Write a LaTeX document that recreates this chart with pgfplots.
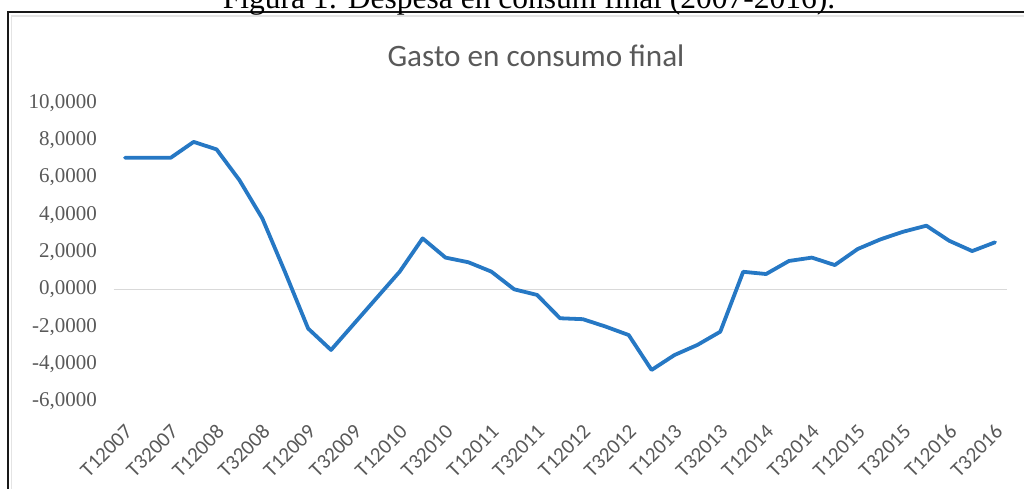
\documentclass[border=0pt]{standalone}
\usepackage{pgfplots}
\pgfplotsset{compat=1.18}
\usepackage{fontspec}
\setmainfont{Liberation Serif}
\newfontfamily\carlito{Carlito}
\definecolor{txtgray}{RGB}{89,89,89}
\definecolor{lineblue}{RGB}{38,120,196}
\definecolor{zerogray}{RGB}{217,217,217}
\begin{document}
\begin{tikzpicture}[x=1pt,y=1pt]
% frame
\draw[zerogray!70, line width=1.2pt] (11.5,-10) -- (11.5,472) -- (1040,472);
\draw[black!90, line width=2.2pt] (8.3,-10) -- (8.3,475.7) -- (1040,475.7);
% caption (cut off at top)
\node[anchor=base, inner sep=0pt, font=\fontsize{31.5}{36}\selectfont] at (529,479) {Figura 1: Despesa en consum final (2007-2016).};
% title
\node[anchor=base, inner sep=0pt, text=txtgray, font=\carlito\fontsize{31.2}{36}\selectfont] at (536,421.3) {Gasto en consumo final};
\begin{axis}[
  at={(113.5pt,86.7pt)}, anchor=south west,
  scale only axis, width=893pt, height=298.6pt,
  xmin=-0.5, xmax=38.5, ymin=-6, ymax=10,
  axis line style={draw=none},
  tick style={draw=none},
  xtick={0,2,...,38},
  xticklabels={T12007,T32007,T12008,T32008,T12009,T32009,T12010,T32010,T12011,T32011,T12012,T32012,T12013,T32013,T12014,T32014,T12015,T32015,T12016,T32016},
  xticklabel style={yshift=-27pt, xshift=4pt, rotate=45, anchor=east, inner sep=0pt, text=txtgray, font=\carlito\fontsize{21}{23}\selectfont},
  ytick={-6,-4,...,10},
  yticklabel style={xshift=-16.5pt, anchor=east, inner sep=0pt, text=txtgray, font=\fontsize{21}{23}\selectfont},
  /pgf/number format/assume math mode=true,
  yticklabel={\pgfmathprintnumber[fixed, fixed zerofill, precision=4, use comma, 1000 sep={}]{\tick}},
  clip=false,
]
\addplot[zerogray, line width=1.5pt, forget plot] coordinates {(-0.5,0) (38.5,0)};
\addplot[lineblue, line width=3.8pt, line join=round, line cap=round, mark=none] coordinates {
(0,7.05) (1,7.05) (2,7.05) (3,7.9) (4,7.5) (5,5.85) (6,3.8) (7,0.9) (8,-2.1) (9,-3.25)
(10,-1.85) (11,-0.45) (12,0.95) (13,2.73) (14,1.7) (15,1.45) (16,0.95) (17,0.0) (18,-0.3) (19,-1.55)
(20,-1.6) (21,-2.0) (22,-2.45) (23,-4.32) (24,-3.52) (25,-2.98) (26,-2.27) (27,0.94) (28,0.82) (29,1.52)
(30,1.7) (31,1.3) (32,2.16) (33,2.68) (34,3.09) (35,3.41) (36,2.6) (37,2.05) (38,2.52)
};
\end{axis}
\pgfresetboundingbox
\useasboundingbox (0,0) rectangle (1024,488);
\end{tikzpicture}
\end{document}
